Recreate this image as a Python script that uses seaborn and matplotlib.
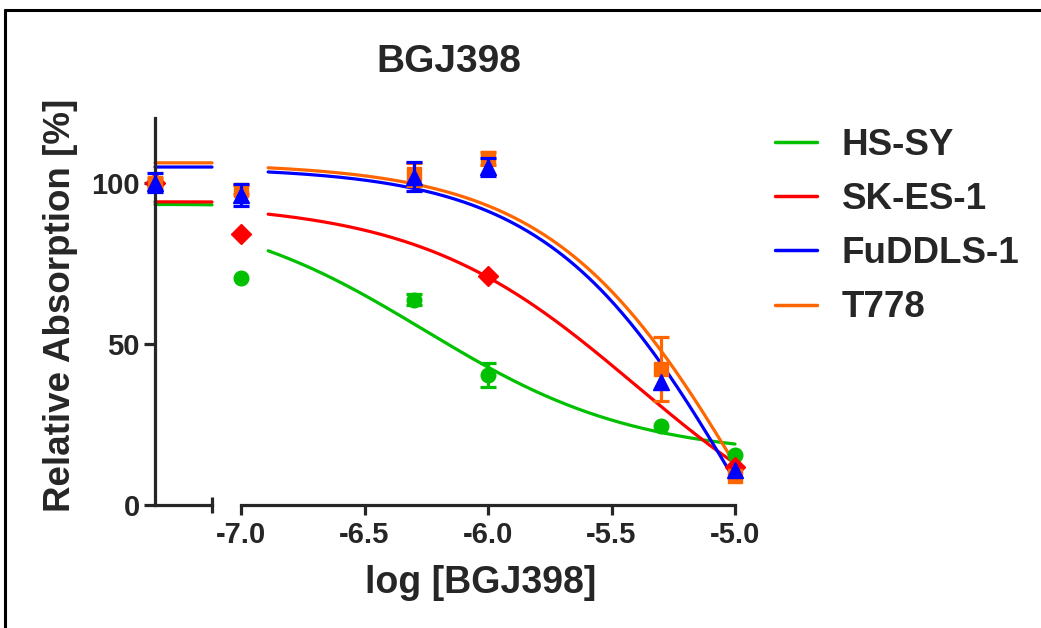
import numpy as np
import pandas as pd
import matplotlib
matplotlib.use("Agg")
import matplotlib.pyplot as plt
import seaborn as sns
from matplotlib.lines import Line2D

# cell lines, legend order
lines = ["HS-SY", "SK-ES-1", "FuDDLS-1", "T778"]
colors = ["#00c000", "#ff0000", "#0000ff", "#ff6600"]
markers = ["o", "D", "^", "s"]

# log concentrations of the treated wells
log_conc = [-7.0, -6.3, -6.0, -5.3, -5.0]
sk_es_conc = [-7.0, -6.0, -5.0]

# untreated control (drawn on the left axis segment)
ctrl_x = -10.0
ctrl_mean = [100.0, 100.0, 100.0, 100.0]
ctrl_sd = [np.nan, np.nan, 3.0, 1.5]

hs_sy_mean = [70.5, 63.7, 40.4, 24.5, 15.5]
hs_sy_sd = [np.nan, 1.7, 3.7, np.nan, np.nan]
sk_es_mean = [84.0, 71.0, 11.8]
sk_es_sd = [np.nan, np.nan, np.nan]
fuddls_mean = [96.1, 101.8, 104.7, 38.2, 10.9]
fuddls_sd = [3.3, 4.5, 2.8, np.nan, np.nan]
t778_mean = [97.8, 102.5, 107.5, 42.2, 9.0]
t778_sd = [1.5, 3.5, 2.0, 9.8, np.nan]

# four parameter logistic fits (top, bottom, logIC50, hill)
fit_top = [93.2, 94.0, 104.8, 106.1]
fit_bottom = [15.0, -20.0, -100.0, -100.0]
fit_logic50 = [-6.255, -5.40, -4.96, -4.925]
fit_hill = [1.02, 0.98, 1.10, 1.08]


def four_pl(x, top, bottom, logic50, hill):
    return bottom + (top - bottom) / (1 + 10 ** ((x - logic50) * hill))


def curve_frame(xs):
    rows = []
    for i, name in enumerate(lines):
        ys = four_pl(xs, fit_top[i], fit_bottom[i], fit_logic50[i], fit_hill[i])
        rows.append(pd.DataFrame({"x": xs, "y": ys, "line": name}))
    return pd.concat(rows, ignore_index=True)


sns.set_style("ticks")
plt.rcParams["font.family"] = ["Liberation Sans", "DejaVu Sans"]
plt.rcParams["font.weight"] = "bold"

W, H = 1041, 628
fig = plt.figure(figsize=(W / 100, H / 100), dpi=100)

y0, y1 = 505, 118
ax_l = fig.add_axes([155 / W, 1 - y0 / H, 57 / W, (y0 - y1) / H])
ax_r = fig.add_axes([241 / W, 1 - y0 / H, 494 / W, (y0 - y1) / H])

palette = dict(zip(lines, colors))
draw_order = ["HS-SY", "SK-ES-1", "T778", "FuDDLS-1"]
zorders = {"HS-SY": 3, "SK-ES-1": 4, "T778": 5, "FuDDLS-1": 6}

df_left = curve_frame(np.linspace(-10.0, -9.0, 20))
df_right = curve_frame(np.linspace(-6.89, -5.0, 300))
for ax, df in [(ax_l, df_left), (ax_r, df_right)]:
    sns.lineplot(data=df, x="x", y="y", hue="line", hue_order=draw_order,
                 palette=palette, linewidth=2.3, legend=False, ax=ax,
                 clip_on=False)

series = {
    "HS-SY": (log_conc, hs_sy_mean, hs_sy_sd),
    "SK-ES-1": (sk_es_conc, sk_es_mean, sk_es_sd),
    "FuDDLS-1": (log_conc, fuddls_mean, fuddls_sd),
    "T778": (log_conc, t778_mean, t778_sd),
}
sizes = {"HS-SY": 10.5, "SK-ES-1": 10, "FuDDLS-1": 11, "T778": 10.5}

for name in draw_order:
    i = lines.index(name)
    xs, ms, sd = series[name]
    kw = dict(fmt=markers[i], color=colors[i], ms=sizes[name], capsize=6,
              elinewidth=2.3, capthick=2.3, clip_on=False, zorder=zorders[name])
    ax_r.errorbar(xs, ms, yerr=sd, **kw)
    ax_l.errorbar([ctrl_x], [ctrl_mean[i]], yerr=[ctrl_sd[i]], **kw)

for ax in (ax_l, ax_r):
    ax.set_ylim(0, 120)
    ax.set_xlabel("")
    ax.set_ylabel("")
    sns.despine(ax=ax)
    for s in ax.spines.values():
        s.set_linewidth(2.3)

ax_l.set_xlim(-10.0, -9.0)
ax_l.set_xticks([-9.0])
ax_l.set_xticklabels([])
ax_l.tick_params(axis="x", direction="inout", length=11, width=2.3)
ax_l.set_yticks([0, 50, 100])
ax_l.tick_params(axis="y", direction="out", length=8, width=2.3, pad=3,
                 labelsize=21)

ax_r.spines["left"].set_visible(False)
ax_r.set_yticks([])
ax_r.set_xlim(-7.0, -5.0)
ax_r.set_xticks([-7.0, -6.5, -6.0, -5.5, -5.0])
ax_r.set_xticklabels(["-7.0", "-6.5", "-6.0", "-5.5", "-5.0"])
ax_r.set_xticks([-7.0], minor=True)
ax_r.tick_params(axis="x", which="major", direction="out", length=7.5,
                 width=2.3, pad=4, labelsize=21)
ax_r.tick_params(axis="x", which="minor", direction="in", length=5, width=2.3)

fig.text(449 / W, 1 - 62 / H, "BGJ398", ha="center", va="center",
         fontsize=28, fontweight="bold")
fig.text(481 / W, 1 - 583 / H, "log [BGJ398]", ha="center", va="center",
         fontsize=27, fontweight="bold")
fig.text(61 / W, 1 - 305 / H, "Relative Absorption [%]", ha="center",
         va="center", rotation=90, fontsize=26.5, fontweight="bold")

handles = [Line2D([], [], color=c, linewidth=2.5) for c in colors]
fig.legend(handles, lines, loc="upper left",
           bbox_to_anchor=(775 / W, 1 - 128 / H), frameon=False,
           prop={"size": 26.5, "weight": "bold"}, handlelength=1.14,
           handletextpad=0.68, labelspacing=0.52, borderpad=0,
           borderaxespad=0)

# outer frame of the exported panel (top and left edges only)
fig.add_artist(Line2D([5 / W, 5 / W], [0, 1 - 10 / H], color="black",
                      linewidth=2.2, transform=fig.transFigure))
fig.add_artist(Line2D([5 / W, 1], [1 - 10 / H, 1 - 10 / H], color="black",
                      linewidth=2.2, transform=fig.transFigure))

fig.savefig("out.png", dpi=100)
